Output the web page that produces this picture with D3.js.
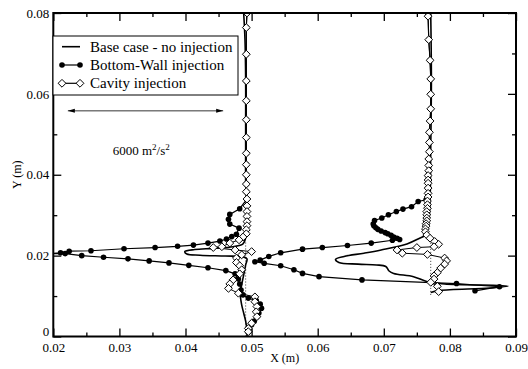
<!DOCTYPE html>
<html>
<head>
<meta charset="utf-8">
<script src="https://cdn.jsdelivr.net/npm/d3@7"></script>
<style>
html, body { margin: 0; padding: 0; background: #fff; }
svg { display: block; font-family: "Liberation Serif", "Times New Roman", serif; }
</style>
</head>
<body>
<svg id="chart" width="528" height="369" font-family="Liberation Serif, serif"></svg>
<script>
// Axis ticks
const xTicks = [0.02, 0.03, 0.04, 0.05, 0.06, 0.07, 0.08, 0.09];
const xTickLabels = ["0.02", "0.03", "0.04", "0.05", "0.06", "0.07", "0.08", "0.09"];
const xMinorTicks = [0.025, 0.035, 0.045, 0.055, 0.065, 0.075, 0.085];
const yTicks = [0, 0.02, 0.04, 0.06, 0.08];
const yTickLabels = ["0", "0.02", "0.04", "0.06", "0.08"];
const yMinorTicks = [0.01, 0.03, 0.05, 0.07];

const seriesNames = ["Base case - no injection", "Bottom-Wall injection", "Cavity injection"];

// Profile stations (dotted reference lines): x position, bottom and top of the dotted part
const stationX = [0.0491, 0.0771];
const stationY0 = [0, 0.0103];
const stationY1 = [0.0235, 0.0235];

// Scale arrow: 6000 m^2/s^2
const arrowX = [0.0222, 0.0457];
const arrowY = 0.0558;
const arrowLabelPos = [0.0333, 0.0449];

// Base case - no injection, [x, y] in m
const baseLeft = [[0.0488,0.0800],[0.0490,0.0734],[0.0491,0.0636],[0.0491,0.0536],[0.0491,0.0460],
  [0.0491,0.0387],[0.0492,0.0320],[0.0492,0.0288],[0.0491,0.0244],[0.0487,0.0229],[0.0472,0.0222],
  [0.0442,0.0218],[0.0414,0.0215],[0.0399,0.0210],[0.0402,0.0204],[0.0422,0.0201],[0.0460,0.0199],
  [0.0487,0.0197],[0.0493,0.0192],[0.0491,0.0177],[0.0488,0.0152],[0.0485,0.0128],[0.0483,0.0103],
  [0.0485,0.0078],[0.0488,0.0058],[0.0491,0.0038],[0.0493,0.0016],[0.0493,0.0000]];
const baseRight = [[0.0771,0.0800],[0.0772,0.0635],[0.0771,0.0462],[0.0770,0.0338],[0.0768,0.0283],
  [0.0765,0.0261],[0.0761,0.0249],[0.0754,0.0243],[0.0735,0.0229],[0.0696,0.0214],[0.0670,0.0206],
  [0.0640,0.0198],[0.0627,0.0191],[0.0632,0.0183],[0.0661,0.0179],[0.0689,0.0177],[0.0703,0.0173],
  [0.0708,0.0162],[0.0715,0.0156],[0.0745,0.0148],[0.0765,0.0136],[0.0792,0.0130],[0.0888,0.0125],
  [0.0860,0.0120],[0.0785,0.0114],[0.0771,0.0109]];

// Bottom-Wall injection
const wallLeft = [[0.0493,0.0800],[0.0492,0.0764],[0.0492,0.0698],[0.0492,0.0632],[0.0492,0.0583],
  [0.0492,0.0536],[0.0492,0.0492],[0.0492,0.0453],[0.0492,0.0425],[0.0492,0.0400],[0.0492,0.0377],
  [0.0492,0.0358],[0.0493,0.0340],[0.0482,0.0316],[0.0467,0.0302],[0.0465,0.0290],[0.0467,0.0278],
  [0.0481,0.0268],[0.0477,0.0253],[0.0470,0.0247],[0.0462,0.0241],[0.0452,0.0236],[0.0434,0.0231],
  [0.0412,0.0226],[0.0388,0.0223],[0.0354,0.0220],[0.0307,0.0217],[0.0257,0.0212],[0.0224,0.0211],
  [0.0211,0.0207],[0.0192,0.0205],[0.0218,0.0205],[0.0243,0.0200],[0.0276,0.0196],[0.0313,0.0192],
  [0.0345,0.0187],[0.0375,0.0182],[0.0405,0.0176],[0.0434,0.0170],[0.0461,0.0163],[0.0475,0.0155],
  [0.0480,0.0142],[0.0482,0.0130],[0.0484,0.0115],[0.0487,0.0103],[0.0495,0.0095],[0.0507,0.0089],
  [0.0513,0.0080],[0.0515,0.0070],[0.0511,0.0058],[0.0508,0.0049],[0.0504,0.0038],[0.0500,0.0029],
  [0.0496,0.0019],[0.0495,0.0011]];
const wallRight = [[0.0767,0.0800],[0.0767,0.0792],[0.0768,0.0734],[0.0770,0.0683],[0.0771,0.0637],
  [0.0771,0.0599],[0.0771,0.0563],[0.0770,0.0533],[0.0769,0.0505],[0.0769,0.0480],[0.0769,0.0457],
  [0.0768,0.0439],[0.0768,0.0423],[0.0768,0.0410],[0.0767,0.0398],[0.0767,0.0387],[0.0767,0.0379],
  [0.0767,0.0367],[0.0767,0.0354],[0.0767,0.0345],[0.0764,0.0338],[0.0752,0.0334],[0.0742,0.0321],
  [0.0729,0.0315],[0.0719,0.0309],[0.0707,0.0301],[0.0697,0.0293],[0.0686,0.0287],[0.0684,0.0278],
  [0.0685,0.0274],[0.0688,0.0269],[0.0691,0.0265],[0.0696,0.0261],[0.0702,0.0257],[0.0706,0.0254],
  [0.0711,0.0250],[0.0715,0.0246],[0.0720,0.0243],[0.0724,0.0240],[0.0713,0.0238],[0.0681,0.0231],
  [0.0645,0.0225],[0.0607,0.0220],[0.0577,0.0216],[0.0544,0.0207],[0.0526,0.0198],[0.0513,0.0189],
  [0.0505,0.0185],[0.0519,0.0181],[0.0544,0.0175],[0.0564,0.0165],[0.0577,0.0156],[0.0602,0.0148],
  [0.0667,0.0140],[0.0810,0.0131],[0.0875,0.0123],[0.0838,0.0113]];

// Cavity injection
const cavityLeft = [[0.0493,0.0800],[0.0492,0.0764],[0.0492,0.0698],[0.0492,0.0632],[0.0492,0.0583],
  [0.0492,0.0536],[0.0492,0.0492],[0.0492,0.0453],[0.0492,0.0425],[0.0492,0.0400],[0.0492,0.0377],
  [0.0492,0.0358],[0.0493,0.0340],[0.0493,0.0323],[0.0493,0.0309],[0.0493,0.0297],[0.0493,0.0284],
  [0.0493,0.0274],[0.0492,0.0264],[0.0492,0.0254],[0.0487,0.0246],[0.0481,0.0239],[0.0467,0.0231],
  [0.0455,0.0222],[0.0442,0.0220],[0.0475,0.0214],[0.0500,0.0210],[0.0485,0.0202],[0.0477,0.0194],
  [0.0477,0.0183],[0.0482,0.0175],[0.0485,0.0165],[0.0482,0.0155],[0.0472,0.0140],[0.0467,0.0130],
  [0.0465,0.0119],[0.0480,0.0107],[0.0505,0.0098],[0.0505,0.0086],[0.0508,0.0074],[0.0507,0.0061],
  [0.0508,0.0049],[0.0500,0.0033],[0.0495,0.0020],[0.0495,0.0012]];
const cavityRight = [[0.0767,0.0800],[0.0767,0.0792],[0.0768,0.0734],[0.0770,0.0683],[0.0771,0.0637],
  [0.0771,0.0599],[0.0771,0.0563],[0.0770,0.0533],[0.0769,0.0505],[0.0769,0.0480],[0.0769,0.0457],
  [0.0768,0.0439],[0.0768,0.0423],[0.0768,0.0410],[0.0767,0.0398],[0.0767,0.0387],[0.0767,0.0379],
  [0.0767,0.0367],[0.0767,0.0354],[0.0767,0.0345],[0.0766,0.0335],[0.0766,0.0326],[0.0766,0.0317],
  [0.0765,0.0309],[0.0765,0.0301],[0.0765,0.0293],[0.0765,0.0286],[0.0764,0.0279],[0.0764,0.0273],
  [0.0763,0.0266],[0.0763,0.0259],[0.0765,0.0251],[0.0770,0.0243],[0.0777,0.0235],[0.0783,0.0228],
  [0.0776,0.0222],[0.0750,0.0220],[0.0720,0.0214],[0.0728,0.0206],[0.0766,0.0203],[0.0792,0.0194],
  [0.0795,0.0187],[0.0792,0.0179],[0.0786,0.0169],[0.0781,0.0158],[0.0776,0.0150],[0.0776,0.0142],
  [0.0771,0.0134],[0.0781,0.0124],[0.0783,0.0111]];

const serif = "'Liberation Serif', 'Times New Roman', serif";
const svg = d3.select("#chart");

const x = d3.scaleLinear().domain([0.02, 0.09]).range([53.3, 516]);
const y = d3.scaleLinear().domain([0, 0.08]).range([336.5, 13]);

svg.append("defs").append("clipPath").attr("id", "clip")
    .append("rect")
    .attr("x", x(0.02)).attr("y", y(0.08))
    .attr("width", x(0.09) - x(0.02)).attr("height", y(0) - y(0.08));

const plot = svg.append("g").attr("clip-path", "url(#clip)");

// dotted station lines
plot.append("g").selectAll("line")
    .data(stationX)
    .join("line")
    .attr("x1", d => x(d)).attr("x2", d => x(d))
    .attr("y1", (d, i) => y(stationY0[i])).attr("y2", (d, i) => y(stationY1[i]))
    .attr("stroke", "#000").attr("stroke-width", 0.8)
    .attr("stroke-dasharray", "1,2");

const line = d3.line().x(d => x(d[0])).y(d => y(d[1]));
const smooth = d3.line().x(d => x(d[0])).y(d => y(d[1])).curve(d3.curveCatmullRom.alpha(0.5));

const diamond = s => `M0,${-s}L${s},0L0,${s}L${-s},0Z`;

// base case
plot.selectAll(".base")
    .data([baseLeft, baseRight])
    .join("path")
    .attr("fill", "none").attr("stroke", "#000").attr("stroke-width", 1.6)
    .attr("d", smooth);

// bottom-wall injection
plot.selectAll(".wall")
    .data([wallLeft, wallRight])
    .join("path")
    .attr("fill", "none").attr("stroke", "#000").attr("stroke-width", 1.2)
    .attr("d", line);
plot.append("g").selectAll("circle")
    .data(wallLeft.concat(wallRight))
    .join("circle")
    .attr("cx", d => x(d[0])).attr("cy", d => y(d[1]))
    .attr("r", 2.8).attr("fill", "#000");

// cavity injection
plot.selectAll(".cav")
    .data([cavityLeft, cavityRight])
    .join("path")
    .attr("fill", "none").attr("stroke", "#000").attr("stroke-width", 1)
    .attr("d", line);
plot.append("g").selectAll("path")
    .data(cavityLeft.concat(cavityRight))
    .join("path")
    .attr("transform", d => `translate(${x(d[0])},${y(d[1])})`)
    .attr("d", diamond(3.9))
    .attr("fill", "#fff").attr("stroke", "#000").attr("stroke-width", 1);

// axes, ticks inside on all sides
function styleAxis(g) {
    g.attr("font-family", serif);
    g.select(".domain").remove();
    g.selectAll("line").attr("stroke", "#000").attr("stroke-width", 1.3);
    g.selectAll("text").attr("fill", "#000")
        .style("font-size", "13px")
        .style("font-family", serif);
}
svg.append("g").attr("transform", `translate(0,${y(0)})`)
    .call(d3.axisBottom(x).tickValues(xTicks).tickSize(-8).tickPadding(6)
        .tickFormat((d, i) => xTickLabels[i]))
    .call(styleAxis);
svg.append("g").attr("transform", `translate(0,${y(0)})`)
    .call(d3.axisBottom(x).tickValues(xMinorTicks).tickSize(-4).tickFormat(""))
    .call(styleAxis);
svg.append("g").attr("transform", `translate(0,${y(0.08)})`)
    .call(d3.axisTop(x).tickValues(xTicks).tickSize(-8).tickFormat(""))
    .call(styleAxis);
svg.append("g").attr("transform", `translate(0,${y(0.08)})`)
    .call(d3.axisTop(x).tickValues(xMinorTicks).tickSize(-4).tickFormat(""))
    .call(styleAxis);
const yAxisG = svg.append("g").attr("transform", `translate(${x(0.02)},0)`)
    .call(d3.axisLeft(y).tickValues(yTicks).tickSize(-8).tickPadding(4)
        .tickFormat((d, i) => yTickLabels[i]))
    .call(styleAxis);
// lift the "0" label so it sits just above the first x label
yAxisG.selectAll("text").filter(d => d === 0).attr("dy", "-0.08em");
svg.append("g").attr("transform", `translate(${x(0.02)},0)`)
    .call(d3.axisLeft(y).tickValues(yMinorTicks).tickSize(-4).tickFormat(""))
    .call(styleAxis);
svg.append("g").attr("transform", `translate(${x(0.09)},0)`)
    .call(d3.axisRight(y).tickValues(yTicks).tickSize(-8).tickFormat(""))
    .call(styleAxis);
svg.append("g").attr("transform", `translate(${x(0.09)},0)`)
    .call(d3.axisRight(y).tickValues(yMinorTicks).tickSize(-4).tickFormat(""))
    .call(styleAxis);

// frame
svg.append("rect")
    .attr("x", x(0.02)).attr("y", y(0.08))
    .attr("width", x(0.09) - x(0.02)).attr("height", y(0) - y(0.08))
    .attr("fill", "none").attr("stroke", "#000").attr("stroke-width", 2);

// axis titles
svg.append("text")
    .attr("x", (x(0.02) + x(0.09)) / 2).attr("y", 362)
    .attr("text-anchor", "middle").style("font-size", "12px").style("font-family", serif)
    .text("X (m)");
svg.append("text")
    .attr("transform", `translate(21,${(y(0) + y(0.08)) / 2}) rotate(-90)`)
    .attr("text-anchor", "middle").style("font-size", "12px").style("font-family", serif)
    .text("Y (m)");

// scale arrow
const ay = y(arrowY);
svg.append("line")
    .attr("x1", x(arrowX[0])).attr("x2", x(arrowX[1]))
    .attr("y1", ay).attr("y2", ay)
    .attr("stroke", "#000").attr("stroke-width", 0.8);
svg.append("path")
    .attr("d", `M${x(arrowX[0])},${ay}l7,-2l0,4Z M${x(arrowX[1])},${ay}l-7,-2l0,4Z`)
    .attr("fill", "#000");
const lab = svg.append("text")
    .attr("x", x(arrowLabelPos[0])).attr("y", y(arrowLabelPos[1]))
    .attr("text-anchor", "middle").style("font-size", "13px").style("font-family", serif);
lab.append("tspan").text("6000 m");
lab.append("tspan").attr("dy", -5).style("font-size", "9px").text("2");
lab.append("tspan").attr("dy", 5).text("/s");
lab.append("tspan").attr("dy", -5).style("font-size", "9px").text("2");

// legend
const legend = svg.append("g");
legend.append("rect")
    .attr("x", 53).attr("y", 36).attr("width", 185).attr("height", 59)
    .attr("fill", "#fff").attr("stroke", "#000").attr("stroke-width", 1);
const rowY = [46.7, 65, 83.3];
seriesNames.forEach((name, i) => {
    const g = legend.append("g").attr("transform", `translate(0,${rowY[i]})`);
    g.append("line").attr("x1", 62).attr("x2", 80)
        .attr("stroke", "#000").attr("stroke-width", i === 0 ? 1.6 : 1.2);
    if (i === 1) {
        g.selectAll("circle").data([62, 80]).join("circle")
            .attr("cx", d => d).attr("r", 2.8).attr("fill", "#000");
    }
    if (i === 2) {
        g.selectAll("path").data([62, 80]).join("path")
            .attr("transform", d => `translate(${d},0)`)
            .attr("d", diamond(3.9))
            .attr("fill", "#fff").attr("stroke", "#000");
    }
    g.append("text").attr("x", 90).attr("y", 5)
        .style("font-size", "15px").style("font-family", serif).text(name);
});
</script>
</body>
</html>
